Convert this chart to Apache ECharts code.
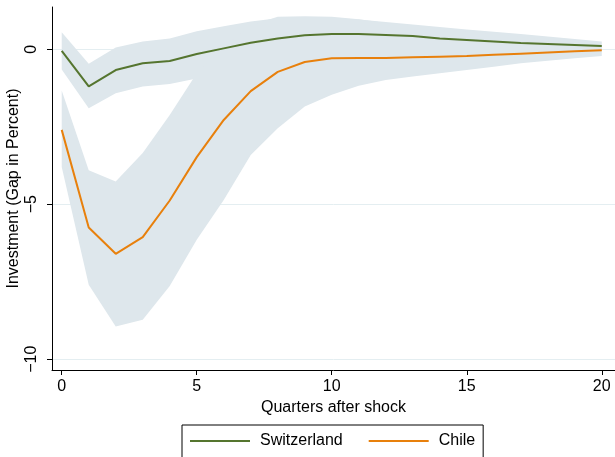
<!DOCTYPE html>
<html>
<head>
<meta charset="utf-8">
<script src="https://cdn.jsdelivr.net/npm/echarts@6/dist/echarts.min.js"></script>
<style>html,body{margin:0;padding:0;background:#fff}#c{width:615px;height:457px}</style>
</head>
<body>
<div id="c"></div>
<script>
var quarters = [0,1,2,3,4,5,6,7,8,9,10,11,12,13,14,15,16,17,18,19,20];
var swiss      = [-0.05,-1.20,-0.67,-0.45,-0.38,-0.15,0.03,0.21,0.35,0.45,0.49,0.49,0.46,0.43,0.35,0.30,0.25,0.20,0.17,0.14,0.11];
var swissUpper = [0.55,-0.47,0.06,0.25,0.35,0.58,0.74,0.90,1.00,1.03,1.02,0.96,0.88,0.80,0.72,0.64,0.57,0.49,0.41,0.33,0.25];
var swissLower = [-0.65,-1.90,-1.42,-1.20,-1.12,-0.94,-0.70,-0.50,-0.32,-0.20,-0.12,-0.06,-0.02,0.00,0.01,0.02,0.02,0.02,0.02,0.01,0.00];
var chile      = [-2.60,-5.75,-6.60,-6.06,-4.88,-3.48,-2.28,-1.35,-0.73,-0.41,-0.29,-0.28,-0.28,-0.26,-0.24,-0.22,-0.18,-0.14,-0.10,-0.06,-0.03];
var chileUpper = [-1.33,-3.90,-4.27,-3.35,-2.12,-0.77,0.08,0.78,1.05,1.07,1.05,0.97,0.85,0.76,0.67,0.58,0.49,0.40,0.31,0.22,0.14];
var chileLower = [-3.80,-7.60,-8.95,-8.73,-7.64,-6.15,-4.86,-3.41,-2.55,-1.85,-1.47,-1.18,-0.99,-0.88,-0.77,-0.67,-0.56,-0.45,-0.37,-0.29,-0.22];
var xTicks = [0,5,10,15,20];
var yTicks = [-10,-5,0];
var yTickLabels = ['\u221210','\u22125','0'];
var seriesNames = ['Switzerland','Chile'];

var FONT = '"Liberation Sans", Arial, sans-serif';
var bandColor = '#dee7ec';
var green = '#55752f';
var orange = '#e8800c';

function pairs(ys){ return quarters.map(function(q,i){ return [q, ys[i]]; }); }

function band(name, lower, upper){
  var data = quarters.map(function(q,i){ return [q, lower[i], upper[i]]; });
  return {
    type:'custom', name:name, silent:true, z:1,
    data:data,
    encode:{x:0, y:[1,2]},
    renderItem:function(params, api){
      if (params.dataIndex !== 0) return null;
      var n = data.length, top = [], bot = [];
      for (var i = 0; i < n; i++) {
        top.push(api.coord([data[i][0], data[i][2]]));
        bot.push(api.coord([data[i][0], data[i][1]]));
      }
      var pts = top.concat(bot.reverse());
      return {type:'polygon', shape:{points:pts}, style:{fill:bandColor, stroke:null}};
    }
  };
}

var chart = echarts.init(document.getElementById('c'), null, {renderer:'canvas'});
var series = [
  band('sw_band', swissLower, swissUpper),
  band('cl_band', chileLower, chileUpper),
  {type:'line', name:seriesNames[0], data:pairs(swiss), symbol:'none', lineStyle:{color:green, width:2}, itemStyle:{color:green}, z:3},
  {type:'line', name:seriesNames[1], data:pairs(chile), symbol:'none', lineStyle:{color:orange, width:2}, itemStyle:{color:orange}, z:3}
];

chart.setOption({
  animation:false,
  backgroundColor:'#fff',
  textStyle:{fontFamily:FONT},
  grid:{left:52, top:7, width:563, height:363, containLabel:false, outerBoundsMode:'none'},
  xAxis:{
    type:'value', min:-0.36, max:20.49,
    axisLine:{show:true, onZero:false, lineStyle:{color:'#000', width:1}},
    axisTick:{show:true, length:5, customValues:xTicks, lineStyle:{color:'#000'}},
    axisLabel:{customValues:xTicks, fontSize:16, color:'#000', margin:9, fontFamily:FONT},
    splitLine:{show:false},
    name:'Quarters after shock', nameLocation:'middle', nameGap:27,
    nameTextStyle:{fontSize:16, color:'#000', fontFamily:FONT}
  },
  yAxis:{
    type:'value', min:-10.35, max:1.365,
    axisLine:{show:true, onZero:false, lineStyle:{color:'#000', width:1}},
    axisTick:{show:true, length:5, customValues:yTicks, lineStyle:{color:'#000'}},
    axisLabel:{customValues:yTicks, rotate:90, fontSize:16, color:'#000', margin:12, fontFamily:FONT,
      formatter:function(v){ var i = yTicks.indexOf(v); return i>=0 ? yTickLabels[i] : ''; }},
    splitLine:{show:true, lineStyle:{color:'#e4eef1', width:1}},
    name:'Investment (Gap in Percent)', nameLocation:'middle', nameGap:30, nameMoveOverlap:false,
    nameTextStyle:{fontSize:16, color:'#000', fontFamily:FONT}
  },
  legend:{
    data:seriesNames, left:182, top:425, orient:'horizontal',
    icon:'rect', itemWidth:60, itemHeight:2, itemGap:26,
    padding:[8,8,30,8], borderColor:'#000', borderWidth:1, backgroundColor:'#fff',
    textStyle:{fontSize:16, color:'#000', fontFamily:FONT, padding:[0,0,0,5]}
  },
  series:series
});
</script>
</body>
</html>
